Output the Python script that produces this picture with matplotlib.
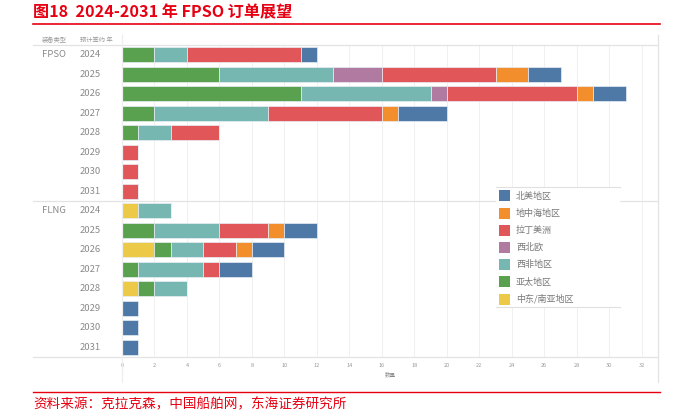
import numpy as np
import matplotlib
matplotlib.use('Agg')
import matplotlib.pyplot as plt
import matplotlib.transforms as mtrans
from matplotlib.patches import Rectangle

plt.rcParams['font.family'] = ['Noto Sans CJK SC', 'DejaVu Sans']

# ── Data ──────────────────────────────────────────────────────────────────────
types = ['FPSO', 'FLNG']
years = ['2024', '2025', '2026', '2027', '2028', '2029', '2030', '2031']
regions = ['中东/南亚地区', '亚太地区', '西非地区', '西北欧', '拉丁美洲', '地中海地区', '北美地区']
colors = ['#edc948', '#59a14f', '#76b7b2', '#b07aa1', '#e15759', '#f28e2b', '#4e79a7']
legend_order = ['北美地区', '地中海地区', '拉丁美洲', '西北欧', '西非地区', '亚太地区', '中东/南亚地区']

# counts per region, one value per signing year
fpso = {
    '中东/南亚地区': [0, 0, 0, 0, 0, 0, 0, 0],
    '亚太地区':     [2, 6, 11, 2, 1, 0, 0, 0],
    '西非地区':     [2, 7, 8, 7, 2, 0, 0, 0],
    '西北欧':       [0, 3, 1, 0, 0, 0, 0, 0],
    '拉丁美洲':     [7, 7, 8, 7, 3, 1, 1, 1],
    '地中海地区':   [0, 2, 1, 1, 0, 0, 0, 0],
    '北美地区':     [1, 2, 2, 3, 0, 0, 0, 0],
}
flng = {
    '中东/南亚地区': [1, 0, 2, 0, 1, 0, 0, 0],
    '亚太地区':     [0, 2, 1, 1, 1, 0, 0, 0],
    '西非地区':     [2, 4, 2, 4, 2, 0, 0, 0],
    '西北欧':       [0, 0, 0, 0, 0, 0, 0, 0],
    '拉丁美洲':     [0, 3, 2, 1, 0, 0, 0, 0],
    '地中海地区':   [0, 1, 1, 0, 0, 0, 0, 0],
    '北美地区':     [0, 2, 2, 2, 0, 1, 1, 1],
}

W, H = 681, 415
fig = plt.figure(figsize=(W/100, H/100), dpi=100)
fig.patch.set_facecolor('white')

def fx(px): return px / W
def fy(py): return 1 - py / H

# plot area in pixels
L, R, T, B = 122, 658, 45, 357
ax = fig.add_axes([fx(L), fy(B), fx(R) - fx(L), (B - T) / H])
ax.set_xlim(0, 33)
n_rows = 16
ax.set_ylim(n_rows - 0.5, -0.5)

for xv in range(0, 33, 2):
    ax.axvline(xv, color='#f0f0f0', lw=0.7, zorder=0)

rows = np.arange(n_rows)
data_all = {r: fpso[r] + flng[r] for r in regions}
left = np.zeros(n_rows)
for reg, col in zip(regions, colors):
    vals = np.array(data_all[reg], dtype=float)
    ax.barh(rows, vals, left=left, height=0.76, color=col,
            edgecolor='#e8eef5', linewidth=0.5, zorder=2)
    left += vals

for sp in ax.spines.values():
    sp.set_visible(False)
ax.set_yticks([])
ax.set_xticks(range(0, 33, 2))
ax.tick_params(axis='x', length=0, labelsize=4, colors='#999999', pad=4)
ax.set_xlabel('数量', fontsize=4, color='#888888', labelpad=3)

# frame lines
line_c = '#e3e3e3'
for py in (T, 201, B):
    fig.add_artist(plt.Line2D([fx(33), fx(R)], [fy(py), fy(py)],
                              color=line_c, lw=0.9))
fig.add_artist(plt.Line2D([fx(R), fx(R)], [fy(35), fy(382)], color=line_c, lw=0.9))
fig.add_artist(plt.Line2D([fx(L), fx(L)], [fy(35), fy(382)], color='#eeeeee', lw=0.9))

# row labels
bt = mtrans.blended_transform_factory(fig.transFigure, ax.transData)
for i, t in enumerate(types):
    fig.text(fx(42), i * 8, t, transform=bt, fontsize=6.8, color='#8a8a8a',
             va='center', ha='left')
    for j, yr in enumerate(years):
        fig.text(fx(80), i * 8 + j, yr, transform=bt, fontsize=6.8, color='#8a8a8a',
                 va='center', ha='left')

fig.text(fx(42), fy(40), '装备类型', fontsize=4.5, color='#999999', va='center')
fig.text(fx(80), fy(40), '预计签约 年', fontsize=4.5, color='#999999', va='center')

# legend
fig.add_artist(Rectangle((fx(496), fy(307)), fx(620) - fx(496), (307 - 187) / H,
                         transform=fig.transFigure, facecolor='white',
                         edgecolor='none', zorder=5))
for py in (187, 307):
    fig.add_artist(plt.Line2D([fx(496), fx(620)], [fy(py), fy(py)],
                              color='#e0e0e0', lw=0.8, zorder=6))
cmap = dict(zip(regions, colors))
for k, name in enumerate(legend_order):
    cy = 196 + k * 17.2
    fig.add_artist(Rectangle((fx(499), fy(cy + 5.5)), 11 / W, 11 / H,
                             transform=fig.transFigure, facecolor=cmap[name],
                             edgecolor='none', zorder=7))
    fig.text(fx(516), fy(cy), name, fontsize=6.5, color='#777777',
             va='center', ha='left', zorder=7)

# title and source
red = '#e60012'
fig.text(fx(33), fy(12), '图18  2024-2031 年 FPSO 订单展望', fontsize=11.6,
         fontweight='bold', color=red, va='center', ha='left')
fig.add_artist(plt.Line2D([fx(33), fx(660)], [fy(24), fy(24)], color=red, lw=1.2))
fig.add_artist(plt.Line2D([fx(33), fx(660)], [fy(392), fy(392)], color=red, lw=1.0))
fig.text(fx(33), fy(404), '资料来源：克拉克森，中国船舶网，东海证券研究所', fontsize=9.8,
         color=red, va='center', ha='left')

fig.savefig('out.png', dpi=100, facecolor='white')
